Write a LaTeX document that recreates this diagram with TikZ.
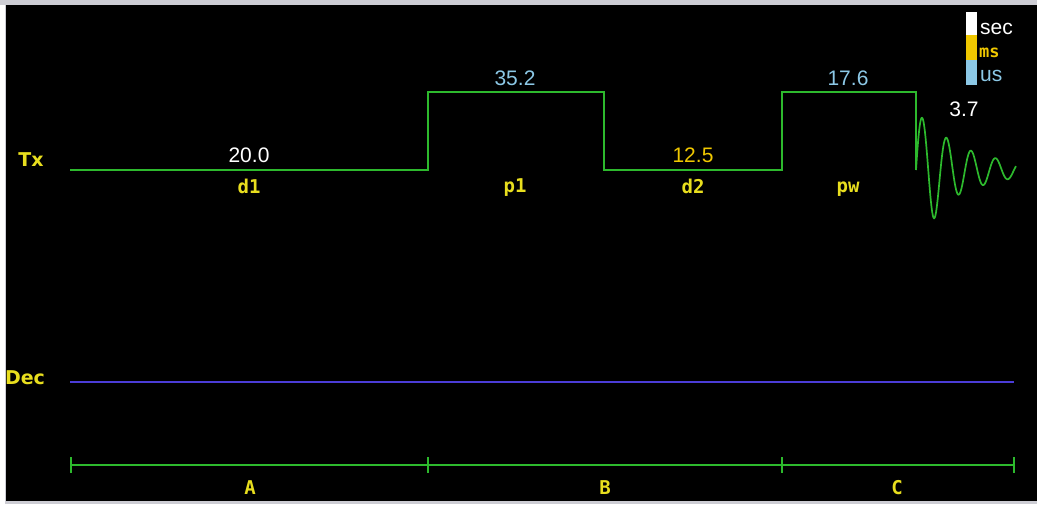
\documentclass[tikz,border=0pt]{standalone}
\usepackage{fontspec}
\setmainfont{DejaVu Sans}
\newfontfamily\monofont{DejaVu Sans Mono}
\newfontfamily\valfont{Liberation Sans}
\definecolor{pgreen}{RGB}{45,185,45}
\definecolor{lblue}{RGB}{140,200,230}
\definecolor{lyellow}{RGB}{232,222,30}
\definecolor{myellow}{RGB}{240,200,0}
\definecolor{decblue}{RGB}{75,60,215}
\definecolor{frame}{RGB}{205,205,212}
\tikzset{
  wave/.style={draw=pgreen, line width=1.9pt},
  val/.style={font=\valfont\fontsize{21}{21}\selectfont, inner sep=0pt, anchor=center},
  lab/.style={font=\monofont\bfseries\fontsize{19}{19}\selectfont, text=lyellow, inner sep=0pt, anchor=center},
  chan/.style={font=\bfseries\fontsize{19}{19}\selectfont, text=lyellow, inner sep=0pt, anchor=center},
  legtext/.style={font=\valfont\fontsize{21}{21}\selectfont, inner sep=0pt, anchor=west}
}
\begin{document}
\begin{tikzpicture}[x=1pt,y=-1pt]
\useasboundingbox (0,0) rectangle (1037,504);
\fill[frame] (0,0) rectangle (1037,504);
\fill[white] (0,5) rectangle (5,504);
\fill[black] (6,5) rectangle (1037,501);

% Tx pulse sequence
\coordinate (t0) at (70,170);
\coordinate (t1) at (428,170);
\coordinate (t2) at (428,92);
\coordinate (t3) at (604,92);
\coordinate (t4) at (604,170);
\coordinate (t5) at (782,170);
\coordinate (t6) at (782,92);
\coordinate (t7) at (916,92);
\coordinate (t8) at (916,170);
\draw[wave, line join=miter] (t0) -- (t1) -- (t2) -- (t3) -- (t4) -- (t5) -- (t6) -- (t7) -- (t8);
\draw[wave, line width=1.7pt] plot[domain=0:100, samples=250]
  ({916+\x}, {170 - (58*exp(-\x/50) + 8*exp(-((\x-18)/8)^2))*sin(\x*14.694)});

% channel labels
\node[chan] (tx) at (31,160) {Tx};
\node[chan] (dec) at (25,378) {Dec};

% values
\node[val, text=white] (v1) at (249,155) {20.0};
\node[val, text=lblue] (v2) at (515,78) {35.2};
\node[val, text=myellow] (v3) at (693,155) {12.5};
\node[val, text=lblue] (v4) at (848,78) {17.6};
\node[val, text=white] (v5) at (964,109) {3.7};

% names
\node[lab] (n1) at (249,186) {d1};
\node[lab] (n2) at (515,188) {p1};
\node[lab] (n3) at (693,186) {d2};
\node[lab] (n4) at (848,189) {pw};

% Dec line
\coordinate (d0) at (70,382);
\coordinate (d1) at (1014,382);
\draw[decblue, line width=1.9pt] (d0) -- (d1);

% time axis
\coordinate (a0) at (71,465);
\coordinate (a1) at (428,465);
\coordinate (a2) at (782,465);
\coordinate (a3) at (1014,465);
\draw[pgreen, line width=1.9pt] (a0) -- (a3);
\foreach \c in {a0,a1,a2,a3} \draw[pgreen, line width=1.4pt] ([yshift=-8pt]\c) -- ([yshift=8pt]\c);
\node[lab] (la) at (250,488) {A};
\node[lab] (lb) at (605,488) {B};
\node[lab] (lc) at (897,488) {C};

% legend
\fill[white] (966,12) rectangle (977,35);
\fill[myellow] (966,35) rectangle (977,60);
\fill[lblue] (966,60) rectangle (977,85);
\node[legtext, text=white] (ls) at (980,29) {sec};
\node[legtext, text=myellow, font=\monofont\bfseries\fontsize{17}{17}\selectfont] (lm) at (979,53) {ms};
\node[legtext, text=lblue] (lu) at (980,76) {us};
\end{tikzpicture}
\end{document}
